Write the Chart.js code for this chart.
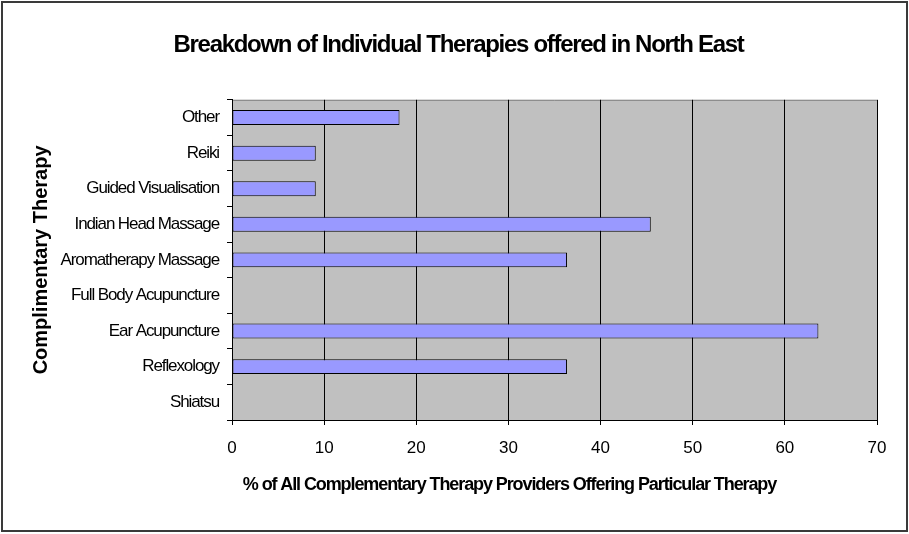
<!DOCTYPE html>
<html>
<head>
<meta charset="utf-8">
<script src="https://cdn.jsdelivr.net/npm/chart.js@4/dist/chart.umd.min.js"></script>
<style>
  html, body { margin: 0; padding: 0; background: #fff; }
  #wrap { width: 909px; height: 534px; position: relative; }
</style>
</head>
<body>
<div id="wrap"><canvas id="c" width="909" height="534"></canvas></div>
<script>
// Therapies offered by complementary therapy providers in the North East
const therapies = [
  'Other',
  'Reiki',
  'Guided Visualisation',
  'Indian Head Massage',
  'Aromatherapy Massage',
  'Full Body Acupuncture',
  'Ear Acupuncture',
  'Reflexology',
  'Shiatsu'
];
// % of all providers offering each therapy
const percentOffering = [18.18, 9.09, 9.09, 45.45, 36.36, 0, 63.64, 36.36, 0];
const xTicks = [0, 10, 20, 30, 40, 50, 60, 70];

const FONT = "'Liberation Sans', Arial, sans-serif";

// Grey plot area, grey top edge and the outer frame
const framePlugin = {
  id: 'frame',
  beforeDraw(chart) {
    const { ctx, chartArea: a } = chart;
    ctx.save();
    ctx.fillStyle = '#fff';
    ctx.fillRect(0, 0, chart.width, chart.height);
    ctx.fillStyle = '#C0C0C0';
    ctx.fillRect(a.left, a.top, a.right - a.left, a.bottom - a.top);
    ctx.strokeStyle = '#808080';
    ctx.lineWidth = 1;
    ctx.beginPath();
    ctx.moveTo(a.left, a.top + 0.5);
    ctx.lineTo(a.right, a.top + 0.5);
    ctx.stroke();
    ctx.restore();
  },
  afterDraw(chart) {
    const { ctx } = chart;
    ctx.save();
    ctx.strokeStyle = '#3a3a3a';
    ctx.lineWidth = 2;
    ctx.strokeRect(2, 2, chart.width - 4, chart.height - 5);
    ctx.restore();
  }
};

// Tight letter spacing for the condensed-looking texts
function spaced(fn, spacing, dx) {
  return function (...args) {
    const ctx = this.ctx || this.chart.ctx;
    ctx.save();
    ctx.letterSpacing = spacing;
    if (dx) ctx.translate(dx, 0);
    fn.apply(this, args);
    ctx.restore();
  };
}
const spacingPlugin = {
  id: 'spacing',
  afterLayout(chart) {
    const y = chart.scales.y, x = chart.scales.x, t = chart.titleBlock;
    if (y && !y._spaced) { y.drawLabels = spaced(y.drawLabels, '-1.1px'); y._spaced = true; }
    if (x && !x._spaced) { x.drawTitle = spaced(x.drawTitle, '-1.1px', -45); x._spaced = true; }
    if (t && !t._spaced) { t.ctx = chart.ctx; t.draw = spaced(t.draw, '-1.3px', 20); t._spaced = true; }
  }
};

new Chart(document.getElementById('c'), {
  type: 'bar',
  data: {
    labels: therapies,
    datasets: [{
      data: percentOffering,
      backgroundColor: '#9999FF',
      borderColor: '#000000',
      borderWidth: (c) => (c.raw === 0 ? 0 : 1),
      borderSkipped: false,
      categoryPercentage: 1,
      barPercentage: 0.42
    }]
  },
  options: {
    indexAxis: 'y',
    responsive: false,
    animation: false,
    layout: { padding: { left: 0, right: 32, top: 0, bottom: 0 } },
    plugins: {
      legend: { display: false },
      tooltip: { enabled: false },
      title: {
        display: true,
        text: 'Breakdown of Individual Therapies offered in North East',
        color: '#000',
        font: { family: FONT, size: 24, weight: 'bold' },
        padding: { top: 31, bottom: 40 }
      }
    },
    scales: {
      x: {
        type: 'linear',
        min: 0,
        max: 70,
        afterBuildTicks(s) { s.ticks = xTicks.map(v => ({ value: v })); },
        afterFit(s) { s.height = 114; },
        grid: { color: '#000', lineWidth: 1, drawTicks: true, tickLength: 5, tickColor: '#000' },
        border: { display: true, color: '#000', width: 1 },
        ticks: { color: '#000', font: { family: FONT, size: 17 }, padding: 13, maxRotation: 0 },
        title: {
          display: true,
          text: '% of All Complementary Therapy Providers Offering Particular Therapy',
          color: '#000',
          font: { family: FONT, size: 18, weight: 'bold' },
          padding: { top: 0, bottom: 38 }
        }
      },
      y: {
        type: 'category',
        afterFit(s) { s.width = 232; },
        grid: { offset: true, drawOnChartArea: false, drawTicks: true, tickLength: 5, color: '#000', tickColor: '#000' },
        border: { display: true, color: '#000', width: 1 },
        ticks: { color: '#000', font: { family: FONT, size: 17 }, padding: 8, autoSkip: false },
        title: {
          display: true,
          text: 'Complimentary Therapy',
          color: '#000',
          font: { family: FONT, size: 20, weight: 'bold' },
          padding: { top: 29, bottom: 0 }
        }
      }
    }
  },
  plugins: [framePlugin, spacingPlugin]
});
</script>
</body>
</html>
